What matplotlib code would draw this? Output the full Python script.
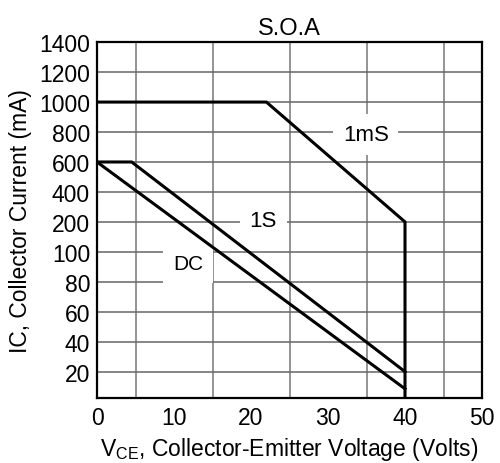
import numpy as np
import matplotlib.pyplot as plt

plt.rcParams['font.family'] = ['Liberation Sans', 'DejaVu Sans']

# graduations de l'axe Y (echelle non lineaire du datasheet)
y_ticks = [20, 40, 60, 80, 100, 200, 400, 600, 800, 1000, 1200, 1400]
x_ticks = [0, 10, 20, 30, 40, 50]

# courbes S.O.A (VCE en volts, IC en mA)
vce_1ms = [0, 22, 40, 40]
ic_1ms = [1000, 1000, 200, 0]
vce_1s = [0, 4.5, 40]
ic_1s = [600, 600, 20]
vce_dc = [0, 40]
ic_dc = [600, 7]

# echelle : chaque graduation est a pas constant
ech_vals = [0] + y_ticks
ech_pos = [0] + [0.88 + i for i in range(len(y_ticks))]


def fwd(v):
    return np.interp(v, ech_vals, ech_pos)


def inv(p):
    return np.interp(p, ech_pos, ech_vals)


fig = plt.figure(figsize=(5, 4.64), dpi=100)
ax = fig.add_axes([0.194, 0.140, 0.770, 0.767])
ax.set_yscale('function', functions=(fwd, inv))
ax.set_xlim(0, 50)
ax.set_ylim(0, 1400)

ax.set_xticks(x_ticks)
ax.set_xticks(np.arange(0, 51, 5), minor=True)
ax.set_yticks(y_ticks)
ax.set_yticks([], minor=True)
ax.set_yticklabels([str(v) for v in y_ticks])
ax.tick_params(axis='both', which='both', length=0, labelsize=16.5)
ax.tick_params(axis='y', pad=5)
ax.tick_params(axis='x', pad=6)

ax.grid(True, which='minor', axis='x', color='#777777', lw=1.1)
ax.grid(True, which='major', axis='y', color='#666666', lw=1.1)
ax.set_axisbelow(True)

for s in ax.spines.values():
    s.set_linewidth(1.6)
    s.set_color('black')

ax.plot(vce_1ms, ic_1ms, color='black', lw=2.2, solid_joinstyle='miter')
ax.plot(vce_1s, ic_1s, color='black', lw=2.2, solid_joinstyle='miter')
ax.plot(vce_dc, ic_dc, color='black', lw=2.2)

boite = dict(facecolor='white', edgecolor='none', pad=7)
ax.text(34.9, 785, '1mS', fontsize=16, ha='center', va='center', bbox=boite, zorder=1.5)
ax.text(21.6, 210, '1S', fontsize=16, ha='center', va='center', bbox=boite, zorder=1.5)
ax.text(11.8, 92, 'DC', fontsize=15, ha='center', va='center', bbox=boite, zorder=1.5)

ax.set_title('S.O.A', fontsize=17, pad=6)
ax.set_xlabel('V$_{\\mathregular{CE}}$, Collector-Emitter Voltage (Volts)', fontsize=16.5, labelpad=4)
ax.set_ylabel('IC, Collector Current (mA)', fontsize=16.5, labelpad=5)

fig.savefig('out.png', dpi=100)
